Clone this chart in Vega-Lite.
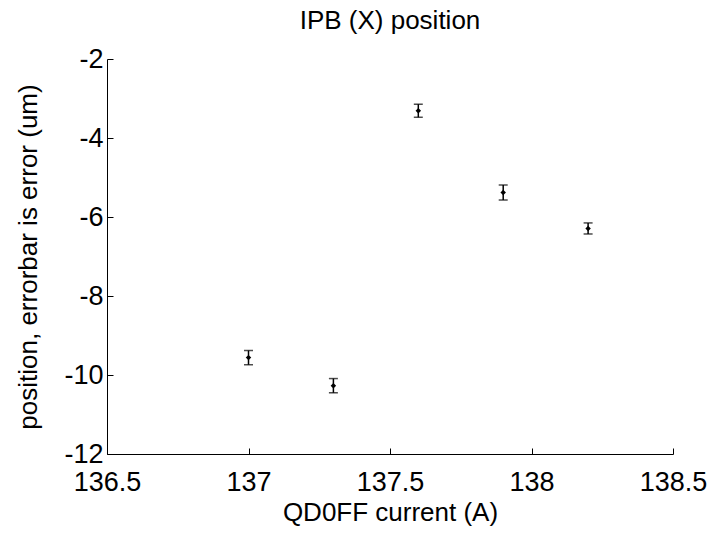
{
  "$schema": "https://vega.github.io/schema/vega-lite/v6.json",
  "autosize": {"type": "none"},
  "width": 566,
  "height": 395,
  "padding": {"left": 107, "top": 59, "right": 43, "bottom": 81},
  "background": "white",
  "title": {"text": "IPB (X) position", "font": "Liberation Sans", "fontSize": 26, "fontWeight": "normal", "color": "black", "offset": 11},
  "config": {
    "view": {"stroke": null},
    "axis": {
      "grid": false,
      "domainColor": "black",
      "domainWidth": 1,
      "tickColor": "black",
      "tickSize": -6,
      "labelFont": "Liberation Sans",
      "labelFontSize": 27,
      "labelColor": "black",
      "titleFont": "Liberation Sans",
      "titleFontSize": 26,
      "titleFontWeight": "normal",
      "titleColor": "black",
      "labelPadding": 10
    }
  },
  "data": {"values": [
    {"current": 137.0, "position": -9.56, "err": 0.18},
    {"current": 137.3, "position": -10.27, "err": 0.18},
    {"current": 137.6, "position": -3.31, "err": 0.165},
    {"current": 137.9, "position": -5.38, "err": 0.19},
    {"current": 138.2, "position": -6.29, "err": 0.14}
  ]},
  "transform": [
    {"calculate": "datum.position - datum.err", "as": "lo"},
    {"calculate": "datum.position + datum.err", "as": "hi"}
  ],
  "encoding": {
    "x": {"field": "current", "type": "quantitative",
      "scale": {"domain": [136.5, 138.5], "nice": false, "zero": false},
      "axis": {"values": [136.5, 137, 137.5, 138, 138.5], "labelExpr": "'' + datum.value", "title": "QD0FF current (A)", "titlePadding": 4, "labelFlush": false, "labelPadding": 21}
    }
  },
  "layer": [
    {
      "mark": {"type": "rule", "color": "black", "strokeWidth": 1.5},
      "encoding": {
        "y": {"field": "lo", "type": "quantitative",
          "scale": {"domain": [-12, -2], "nice": false, "zero": false},
          "axis": {"values": [-12, -10, -8, -6, -4, -2], "labelExpr": "'' + datum.value", "title": "position, errorbar is error (um)", "titlePadding": 22, "labelFlush": false}
        },
        "y2": {"field": "hi"}
      }
    },
    {
      "mark": {"type": "tick", "orient": "horizontal", "color": "black", "size": 9, "thickness": 1.5},
      "encoding": {"y": {"field": "lo", "type": "quantitative"}}
    },
    {
      "mark": {"type": "tick", "orient": "horizontal", "color": "black", "size": 9, "thickness": 1.5},
      "encoding": {"y": {"field": "hi", "type": "quantitative"}}
    },
    {
      "mark": {"type": "point", "shape": "diamond", "filled": true, "color": "black", "opacity": 1, "size": 30},
      "encoding": {"y": {"field": "position", "type": "quantitative"}}
    }
  ]
}
